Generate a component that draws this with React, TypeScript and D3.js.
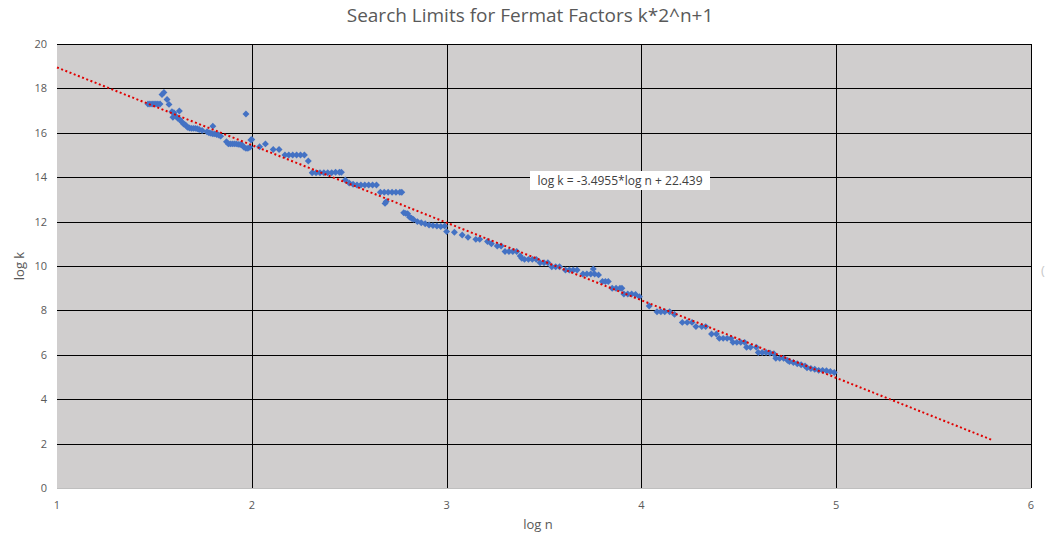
import React from "react";
import * as d3 from "d3";

const logN: number[] = [
  1.467, 1.477, 1.488, 1.498, 1.508, 1.518, 1.529, 1.539, 1.549, 1.565, 1.575,
  1.59, 1.628, 1.595, 1.6, 1.61, 1.62, 1.63, 1.64, 1.65, 1.66,
  1.67, 1.68, 1.69, 1.7, 1.71, 1.72, 1.73, 1.745, 1.8,
  1.77, 1.78, 1.79, 1.8, 1.81, 1.82, 1.83, 1.84,
  1.87, 1.88, 1.89, 1.9, 1.91, 1.92, 1.93, 1.94, 1.95, 1.96, 1.97, 1.98, 1.99,
  1.97, 1.995, 2.0, 2.04, 2.07, 2.11, 2.14,
  2.17, 2.19, 2.21, 2.23, 2.25, 2.27, 2.29,
  2.31, 2.33, 2.35, 2.37, 2.39, 2.41, 2.43, 2.45, 2.46,
  2.48, 2.5, 2.52, 2.54, 2.56, 2.58, 2.6, 2.62, 2.64,
  2.66, 2.68, 2.7, 2.72, 2.74, 2.76, 2.77, 2.684, 2.69,
  2.78, 2.79, 2.8, 2.81, 2.82, 2.83, 2.85, 2.87, 2.89, 2.91, 2.93, 2.95, 2.97, 2.99,
  3.0, 3.04, 3.08, 3.11, 3.15, 3.17, 3.21, 3.23, 3.26, 3.28,
  3.3, 3.32, 3.34, 3.36, 3.378, 3.386,
  3.4, 3.42, 3.44, 3.46, 3.48, 3.5, 3.52, 3.54, 3.56, 3.58,
  3.61, 3.63, 3.65, 3.67, 3.753, 3.7, 3.72, 3.74, 3.76, 3.78,
  3.8, 3.815, 3.83, 3.85, 3.87, 3.89, 3.9,
  3.91, 3.93, 3.95, 3.97, 3.99, 4.04, 4.08, 4.1, 4.12, 4.145, 4.17,
  4.21, 4.235, 4.26, 4.28, 4.31, 4.33, 4.36, 4.385,
  4.4, 4.42, 4.44, 4.46, 4.47, 4.49, 4.51, 4.53,
  4.54, 4.56, 4.59, 4.6, 4.62, 4.64, 4.66, 4.68,
  4.69, 4.71, 4.73, 4.75, 4.76, 4.78, 4.8, 4.82, 4.84,
  4.85, 4.87, 4.89, 4.91, 4.93, 4.95, 4.97, 4.99,
];

const logK: number[] = [
  17.3, 17.3, 17.3, 17.3, 17.3, 17.3, 17.3, 17.72, 17.82, 17.5, 17.28,
  16.95, 16.98, 16.7, 16.9, 16.75, 16.65, 16.6, 16.5, 16.4, 16.35,
  16.25, 16.22, 16.2, 16.2, 16.2, 16.18, 16.15, 16.1, 16.3,
  16.05, 16.0, 15.98, 15.95, 15.95, 15.92, 15.9, 15.85,
  15.6, 15.5, 15.5, 15.5, 15.5, 15.5, 15.48, 15.47, 15.45, 15.35, 15.3, 15.3, 15.35,
  16.85, 15.68, 15.7, 15.37, 15.5, 15.25, 15.25,
  15.0, 15.0, 15.0, 15.0, 15.0, 15.0, 14.73,
  14.2, 14.2, 14.2, 14.2, 14.2, 14.2, 14.22, 14.22, 14.22,
  13.87, 13.74, 13.68, 13.65, 13.65, 13.65, 13.65, 13.65, 13.65,
  13.32, 13.32, 13.32, 13.32, 13.32, 13.32, 13.32, 12.82, 12.9,
  12.4, 12.37, 12.35, 12.2, 12.15, 12.1, 12.0, 11.95, 11.9, 11.85, 11.82, 11.8, 11.78, 11.8,
  11.55, 11.52, 11.4, 11.29, 11.2, 11.2, 11.1, 11.0, 10.9, 10.9,
  10.65, 10.65, 10.65, 10.65, 10.45, 10.35,
  10.3, 10.3, 10.3, 10.3, 10.15, 10.15, 10.15, 9.97, 9.97, 9.97,
  9.82, 9.82, 9.82, 9.82, 9.87, 9.64, 9.64, 9.64, 9.64, 9.6,
  9.3, 9.3, 9.3, 9.0, 9.0, 9.0, 9.0,
  8.74, 8.74, 8.74, 8.72, 8.62, 8.2, 7.94, 7.94, 7.94, 7.94, 7.82,
  7.46, 7.46, 7.46, 7.27, 7.27, 7.27, 6.94, 6.94,
  6.74, 6.74, 6.74, 6.74, 6.56, 6.56, 6.56, 6.56,
  6.34, 6.34, 6.34, 6.1, 6.1, 6.1, 6.08, 6.05,
  5.84, 5.84, 5.84, 5.75, 5.7, 5.65, 5.6, 5.55, 5.5,
  5.42, 5.38, 5.35, 5.3, 5.3, 5.28, 5.25, 5.2,
];

const xTicks = [1, 2, 3, 4, 5, 6];
const yTicks = [0, 2, 4, 6, 8, 10, 12, 14, 16, 18, 20];
const trendSlope = -3.4955;
const trendIntercept = 22.439;
const trendRange = [1, 5.8];
const title = "Search Limits for Fermat Factors k*2^n+1";
const xTitle = "log n";
const yTitle = "log k";
const trendLabel = "log k = -3.4955*log n + 22.439";

const W = 1047;
const H = 537;
const left = 57;
const right = 1031;
const top = 44;
const bottom = 488;
const FONT = "'Open Sans', 'Liberation Sans', sans-serif";

export default function App() {
  const x = d3.scaleLinear().domain([1, 6]).range([left, right]);
  const y = d3.scaleLinear().domain([0, 20]).range([bottom, top]);
  const marker = d3.symbol().type(d3.symbolSquare).size(24)();
  const trend = d3
    .line<number>()
    .x((d) => x(d))
    .y((d) => y(trendSlope * d + trendIntercept));
  const pts = logN.map((n, i) => [n, logK[i]] as [number, number]);

  return (
    <svg
      width={W}
      height={H}
      style={{ position: "absolute", left: 0, top: 0, background: "#fff" }}
    >
      <rect x={left} y={top} width={right - left} height={bottom - top} fill="#d0cece" />
      {yTicks.map((t) => (
        <line
          key={"gy" + t}
          x1={left}
          x2={right}
          y1={Math.round(y(t)) + 0.5}
          y2={Math.round(y(t)) + 0.5}
          stroke={t === 0 ? "#bfbfbf" : "#000"}
          strokeWidth={1}
        />
      ))}
      {xTicks.slice(1).map((t) => (
        <line
          key={"gx" + t}
          x1={Math.round(x(t)) + 0.5}
          x2={Math.round(x(t)) + 0.5}
          y1={top}
          y2={bottom}
          stroke="#000"
          strokeWidth={1}
        />
      ))}
      {yTicks.map((t) => (
        <text
          key={"ty" + t}
          x={47}
          y={y(t) + 4}
          textAnchor="end"
          fontSize={11}
          fontFamily={FONT}
          fill="#595959"
        >
          {t}
        </text>
      ))}
      {xTicks.map((t) => (
        <text
          key={"tx" + t}
          x={x(t)}
          y={509}
          textAnchor="middle"
          fontSize={11}
          fontFamily={FONT}
          fill="#595959"
        >
          {t}
        </text>
      ))}
      {pts.map((p, i) => (
        <path
          key={"p" + i}
          d={marker || ""}
          transform={`translate(${x(p[0])},${y(p[1])}) rotate(45)`}
          fill="#4472c4"
        />
      ))}
      <path
        d={trend(trendRange) || ""}
        fill="none"
        stroke="#e00000"
        strokeWidth={2}
        strokeDasharray="2,2.5"
      />
      <rect x={530} y={171} width={180} height={19} fill="#fff" />
      <text
        x={620}
        y={185}
        textAnchor="middle"
        fontSize={12}
        fontFamily={FONT}
        fill="#404040"
      >
        {trendLabel}
      </text>
      <text
        x={530}
        y={22}
        textAnchor="middle"
        fontSize={19}
        fontFamily={FONT}
        fill="#595959"
      >
        {title}
      </text>
      <text
        x={538}
        y={529}
        textAnchor="middle"
        fontSize={13}
        fontFamily={FONT}
        fill="#595959"
      >
        {xTitle}
      </text>
      <text
        transform={`translate(24,${(top + bottom) / 2}) rotate(-90)`}
        textAnchor="middle"
        fontSize={13}
        fontFamily={FONT}
        fill="#595959"
      >
        {yTitle}
      </text>
      <text x={1041} y={275} fontSize={13} fontFamily={FONT} fill="#c8c8c8">
        (
      </text>
    </svg>
  );
}
